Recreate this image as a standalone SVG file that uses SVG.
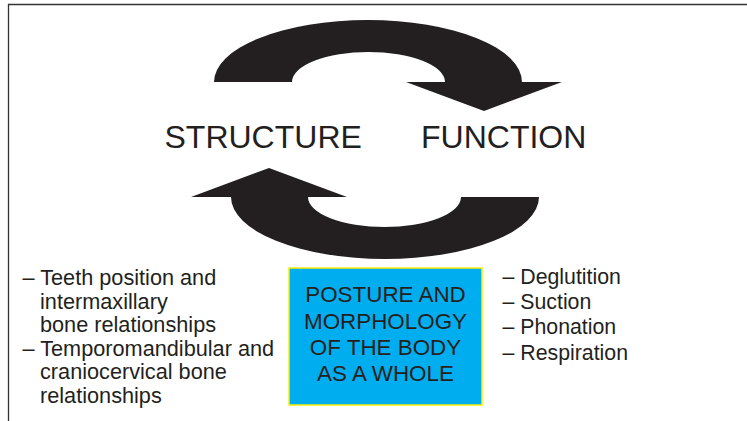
<svg xmlns="http://www.w3.org/2000/svg" width="747" height="421" viewBox="0 0 747 421">
<style>
.t{font-family:"Liberation Sans",Arial,sans-serif;fill:#231f20}
.big{font-size:32px}
.box{font-size:22.4px;text-anchor:middle}
.list{font-size:21.3px}
.ll{font-size:21.7px}
.arrow{fill:#231f20}
</style>
<defs>
<path id="cyc" d="M214 82 A154 62 0 0 1 522 82 L562 82 L484 111 L406 82 L445 82 A76.5 30 0 0 0 292 82 Z"/>
</defs>
<rect width="747" height="421" fill="#fff"/>
<path d="M8.5 421 V4.5 H747" fill="none" stroke="#333" stroke-width="1.3"/>
<g id="connectors">
<use href="#cyc" class="arrow"/>
<use href="#cyc" class="arrow" transform="rotate(180 376.5 139.5)"/>
</g>
<g id="structure"><text class="t big" x="164.5" y="148">STRUCTURE</text></g>
<g id="function"><text class="t big" x="421" y="148">FUNCTION</text></g>
<g id="posture">
<rect x="289" y="268" width="193" height="137" fill="#00aeef" stroke="#ffed00" stroke-width="1.5"/>
<text class="t box" x="385.5" y="302">POSTURE AND</text>
<text class="t box" x="385.5" y="328.5">MORPHOLOGY</text>
<text class="t box" x="385.5" y="355">OF THE BODY</text>
<text class="t box" x="385.5" y="381">AS A WHOLE</text>
</g>
<g id="structure-list">
<text class="t ll" x="22.5" y="285">– Teeth position and</text>
<text class="t ll" x="40" y="308.5">intermaxillary</text>
<text class="t ll" x="40" y="332">bone relationships</text>
<text class="t ll" x="22.5" y="355.5">– Temporomandibular and</text>
<text class="t ll" x="40" y="379">craniocervical bone</text>
<text class="t ll" x="40" y="402.5">relationships</text>
</g>
<g id="function-list">
<text class="t list" x="502.5" y="284">– Deglutition</text>
<text class="t list" x="502.5" y="309.3">– Suction</text>
<text class="t list" x="502.5" y="334.3">– Phonation</text>
<text class="t list" x="502.5" y="359.5">– Respiration</text>
</g>
</svg>
